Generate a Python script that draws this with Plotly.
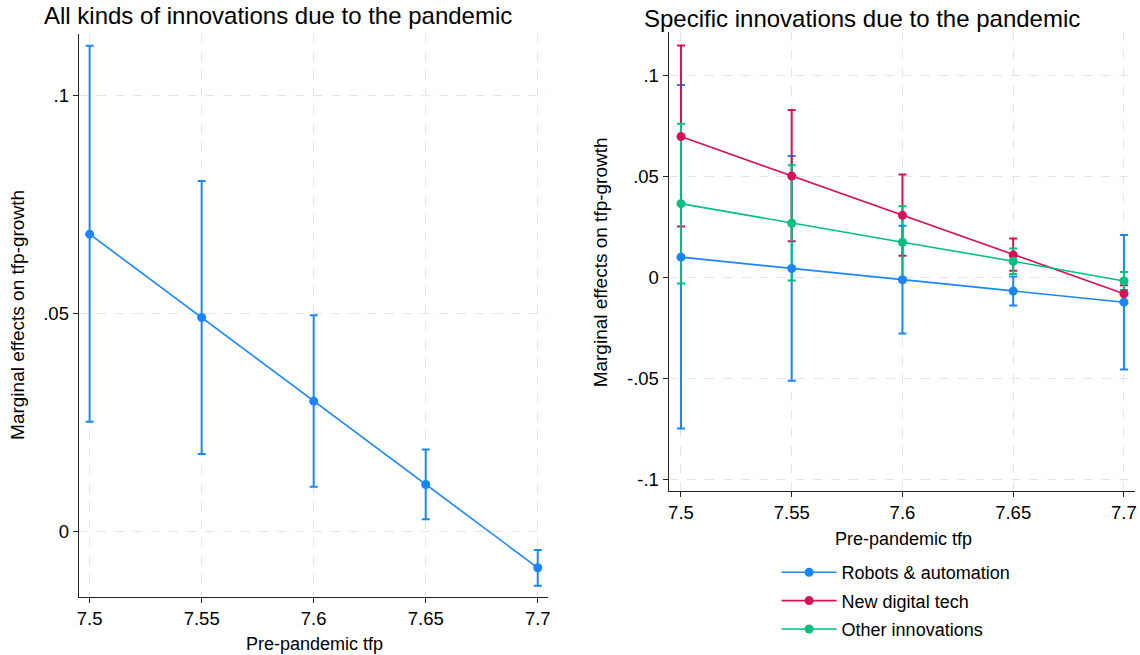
import plotly.graph_objects as go

# ---------------- data ----------------
tfp = [7.5, 7.55, 7.6, 7.65, 7.7]
tfp_labels = ["7.5", "7.55", "7.6", "7.65", "7.7"]

all_me = [0.0681, 0.0490, 0.0298, 0.0107, -0.0084]
all_lo = [0.0251, 0.0177, 0.0102, 0.0027, -0.0125]
all_hi = [0.1113, 0.0803, 0.0495, 0.0187, -0.0043]

robots_me = [0.0101, 0.0045, -0.0011, -0.0067, -0.0122]
robots_lo = [-0.0747, -0.0511, -0.0277, -0.0139, -0.0455]
robots_hi = [0.0954, 0.0602, 0.0257, 0.0005, 0.0211]

digital_me = [0.0698, 0.0503, 0.0308, 0.0112, -0.0080]
digital_lo = [0.0253, 0.0180, 0.0108, 0.0034, -0.0122]
digital_hi = [0.1149, 0.0830, 0.0510, 0.0193, -0.0038]

other_me = [0.0366, 0.0269, 0.0175, 0.0081, -0.0017]
other_lo = [-0.0029, -0.0015, -0.0003, 0.0017, -0.0062]
other_hi = [0.0762, 0.0556, 0.0353, 0.0144, 0.0028]

series_names = ["Robots & automation", "New digital tech", "Other innovations"]

left_yticks = [0, 0.05, 0.1]
left_ytext = ["0", ".05", ".1"]
right_yticks = [-0.1, -0.05, 0, 0.05, 0.1]
right_ytext = ["-.1", "-.05", "0", ".05", ".1"]

# ---------------- style ----------------
W, H = 1140, 655
FONT = "Arial, 'Liberation Sans', sans-serif"
BLUE, RED, GREEN = "#1a85ff", "#d41159", "#00bf7f"
colors = [BLUE, RED, GREEN]


def px_x(p):
    return p / W


def px_y(p):
    return 1 - p / H


def err_trace(xv, me, lo, hi, color, xa, ya):
    return go.Scatter(
        x=xv, y=me, mode="markers",
        marker=dict(size=1, color="rgba(0,0,0,0)"),
        error_y=dict(type="data", symmetric=False,
                     array=[h - m for h, m in zip(hi, me)],
                     arrayminus=[m - l for m, l in zip(me, lo)],
                     color=color, thickness=2, width=4),
        xaxis=xa, yaxis=ya, showlegend=False, hoverinfo="skip")


def line_trace(xv, me, color, name, xa, ya, show):
    return go.Scatter(
        x=xv, y=me, mode="lines+markers", name=name,
        line=dict(color=color, width=1.6),
        marker=dict(color=color, size=9),
        xaxis=xa, yaxis=ya, showlegend=show, legendgroup=name)


fig = go.Figure()

# left panel
fig.add_trace(err_trace(tfp, all_me, all_lo, all_hi, BLUE, "x", "y"))
fig.add_trace(line_trace(tfp, all_me, BLUE, "All", "x", "y", False))

# right panel: error bars first, then lines
right_data = [(robots_me, robots_lo, robots_hi),
              (digital_me, digital_lo, digital_hi),
              (other_me, other_lo, other_hi)]
for (me, lo, hi), c in zip(right_data, colors):
    fig.add_trace(err_trace(tfp, me, lo, hi, c, "x2", "y2"))
for (me, lo, hi), c, n in zip(right_data, colors, series_names):
    fig.add_trace(line_trace(tfp, me, c, n, "x2", "y2", True))

grid = dict(showgrid=True, gridcolor="#e4e4e4", gridwidth=1, griddash="dash",
            zeroline=False, showline=True, linecolor="#222", linewidth=1,
            ticks="outside", ticklen=5, tickcolor="#222",
            tickfont=dict(family=FONT, size=18.5, color="#000"))

fig.update_layout(
    width=W, height=H,
    margin=dict(l=0, r=0, t=0, b=0),
    paper_bgcolor="white", plot_bgcolor="white",
    font=dict(family=FONT, size=18, color="#000"),
    xaxis=dict(domain=[px_x(77), px_x(548)], range=[7.4951, 7.7044],
               tickvals=tfp, ticktext=tfp_labels, anchor="y", **grid),
    yaxis=dict(domain=[px_y(597), px_y(34)], range=[-0.0151, 0.114],
               tickvals=left_yticks, ticktext=left_ytext, anchor="x", **grid),
    xaxis2=dict(domain=[px_x(669.5), px_x(1138)], range=[7.4944, 7.705],
                tickvals=tfp, ticktext=tfp_labels, anchor="y2", **grid),
    yaxis2=dict(domain=[px_y(491), px_y(32)], range=[-0.1057, 0.1216],
                tickvals=right_yticks, ticktext=right_ytext, anchor="x2", **grid),
    legend=dict(x=px_x(778), y=px_y(554), xanchor="left", yanchor="top",
                orientation="v", font=dict(family=FONT, size=18),
                itemwidth=55, tracegroupgap=2, bgcolor="rgba(0,0,0,0)"),
    showlegend=True,
)

ann = [
    dict(text="All kinds of innovations due to the pandemic", x=px_x(277), y=px_y(15),
         font=dict(size=24)),
    dict(text="Specific innovations due to the pandemic", x=px_x(864), y=px_y(18),
         font=dict(size=24)),
    dict(text="Marginal effects on tfp-growth", x=px_x(15), y=px_y(315),
         textangle=-90, font=dict(size=19)),
    dict(text="Marginal effects on tfp-growth", x=px_x(601), y=px_y(262),
         textangle=-90, font=dict(size=19)),
    dict(text="Pre-pandemic tfp", x=px_x(314), y=px_y(644), font=dict(size=18)),
    dict(text="Pre-pandemic tfp", x=px_x(905), y=px_y(539), font=dict(size=18)),
]
for a in ann:
    fig.add_annotation(xref="paper", yref="paper", showarrow=False,
                       xanchor="center", yanchor="middle",
                       font_family=FONT, font_color="#000", **a)

fig.write_html("out.html", config={"displayModeBar": False},
               post_script="document.body.style.margin='0';document.body.style.overflow='hidden';")
